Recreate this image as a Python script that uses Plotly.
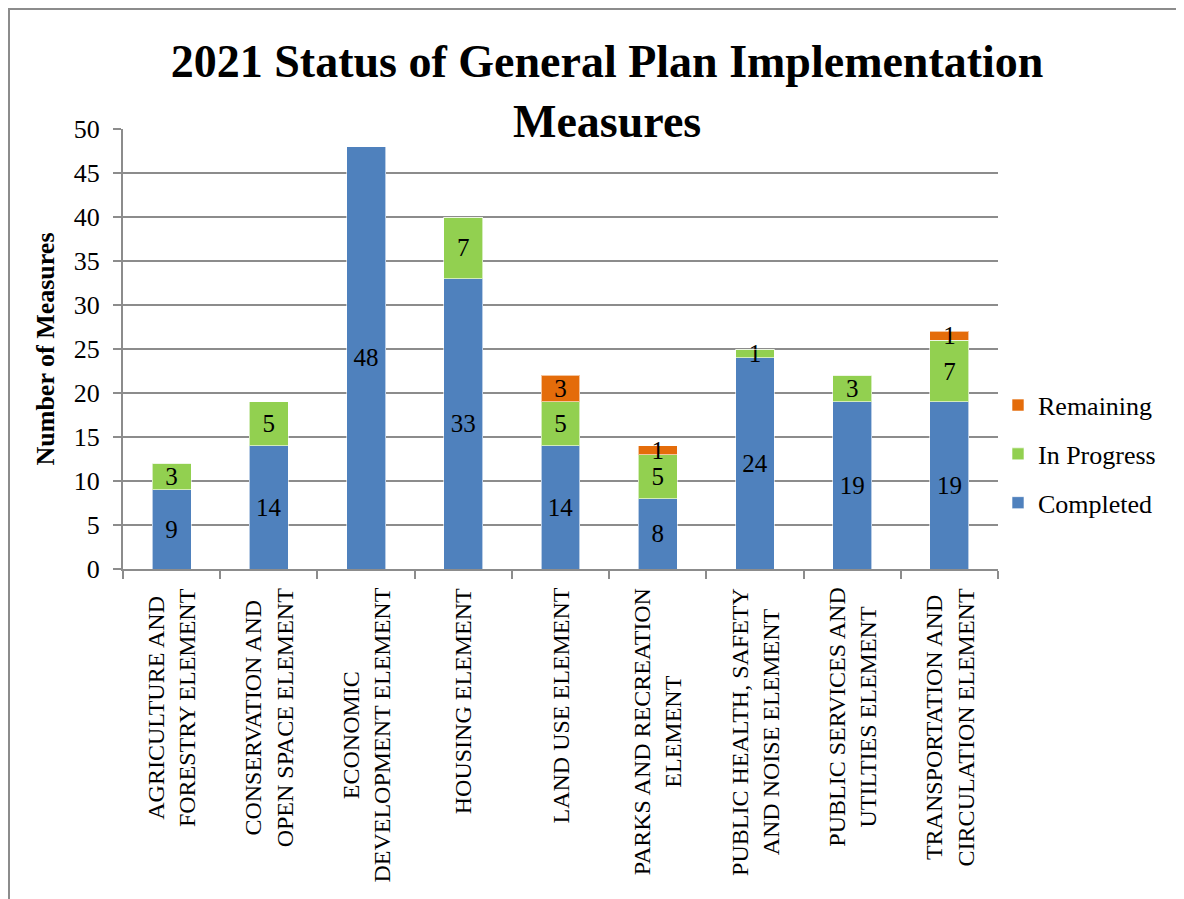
import plotly.graph_objects as go

categories = [
    "AGRICULTURE AND<br>FORESTRY ELEMENT",
    "CONSERVATION AND<br>OPEN SPACE ELEMENT",
    "ECONOMIC<br>DEVELOPMENT ELEMENT",
    "HOUSING ELEMENT",
    "LAND USE ELEMENT",
    "PARKS AND RECREATION<br>ELEMENT",
    "PUBLIC HEALTH, SAFETY<br>AND NOISE ELEMENT",
    "PUBLIC SERVICES AND<br>UTILTIES ELEMENT",
    "TRANSPORTATION AND<br>CIRCULATION ELEMENT",
]
completed = [9, 14, 48, 33, 14, 8, 24, 19, 19]
in_progress = [3, 5, 0, 7, 5, 5, 1, 3, 7]
remaining = [0, 0, 0, 0, 3, 1, 0, 0, 1]
y_ticks = [0, 5, 10, 15, 20, 25, 30, 35, 40, 45, 50]

series = [
    ("Completed", completed, "#4F81BD", 3),
    ("In Progress", in_progress, "#92D050", 2),
    ("Remaining", remaining, "#E46C0A", 1),
]

serif = "Liberation Serif, Times New Roman, serif"

fig = go.Figure()
for name, vals, color, rank in series:
    fig.add_trace(go.Bar(
        x=categories, y=vals, name=name,
        marker=dict(color=color, line=dict(color="rgba(255,255,255,0.6)", width=1)),
        text=[str(v) if v else "" for v in vals],
        textposition="inside", insidetextanchor="middle", textangle=0,
        textfont=dict(family=serif, size=25, color="black"),
        legendgroup=name, legendrank=rank,
    ))

W, H = 1184, 899
L, R, T, B = 115, 194, 121, 338
pw, ph = W - L - R, H - T - B

# category labels below the axis (centered multi-line, rotated)
annotations = [
    dict(text=c, x=c, xref="x", y=0, yref="paper", yanchor="top", xanchor="center",
         yshift=-17, textangle=-90, align="center", showarrow=False,
         font=dict(family=serif, size=24, color="black"))
    for c in categories
]

fig.update_layout(
    width=W, height=H,
    barmode="stack", bargap=0.6,
    plot_bgcolor="white", paper_bgcolor="white",
    margin=dict(l=L, r=R, t=T, b=B),
    uniformtext=dict(minsize=25, mode="show"),
    title=dict(
        text="<b>2021 Status of General Plan Implementation<br>Measures</b>",
        font=dict(family=serif, size=46, color="black"),
        x=0.506, xanchor="center", xref="container",
        y=1 - 69 / H, yanchor="middle", yref="container",
    ),
    legend=dict(
        x=1.0, y=0.261, xanchor="left", yanchor="middle",
        font=dict(family=serif, size=26, color="black"),
        traceorder="grouped", tracegroupgap=12,
        itemwidth=30,
    ),
    xaxis=dict(
        type="category",
        showticklabels=False,
        showline=True, linecolor="#8c8c8c", linewidth=2,
        ticks="outside", ticklen=8, tickwidth=2, tickcolor="#8c8c8c",
        tickson="boundaries",
        showgrid=False,
    ),
    yaxis=dict(
        range=[0, 50],
        tickvals=y_ticks,
        tickfont=dict(family=serif, size=26, color="black"),
        showline=True, linecolor="#8c8c8c", linewidth=2,
        ticks="outside", ticklen=8, tickwidth=2, tickcolor="#8c8c8c",
        showgrid=True, gridcolor="#8c8c8c", gridwidth=2,
        zeroline=False,
        ticklabelstandoff=8,
        title=dict(text="<b>Number of Measures</b>",
                   font=dict(family=serif, size=26, color="black"),
                   standoff=12),
    ),
    annotations=annotations,
    shapes=[dict(
        type="rect", xref="paper", yref="paper",
        x0=(1 - L) / pw, x1=(W + 20 - L) / pw,
        y0=-(B + 20) / ph, y1=1 + (T - 1) / ph,
        line=dict(color="#8c8c8c", width=2), layer="below",
    )],
)

fig.write_html("out.html")
